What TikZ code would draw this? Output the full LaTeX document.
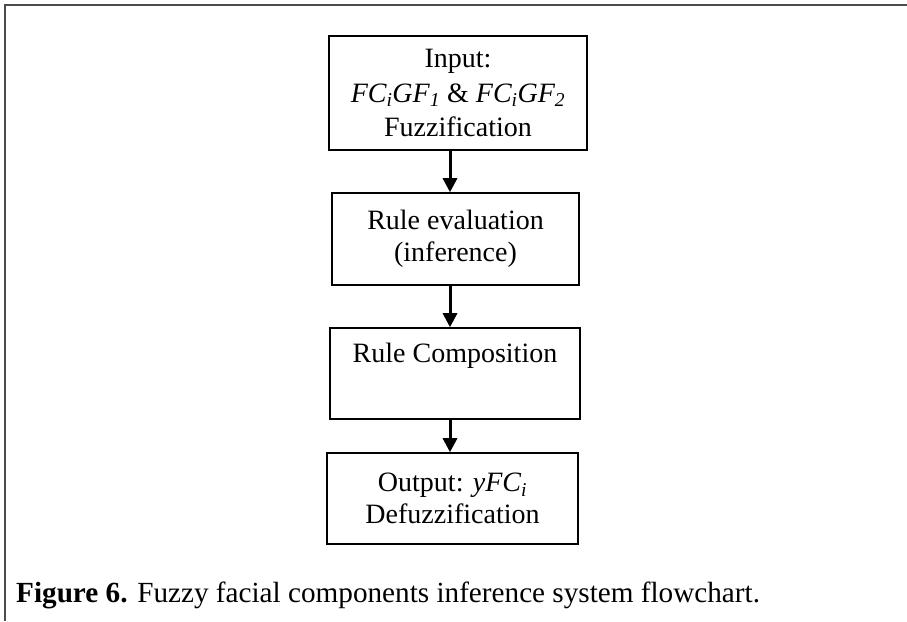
\documentclass[tikz,border=0pt]{standalone}
\usepackage{fontspec}
\setmainfont{Liberation Serif}
\usetikzlibrary{arrows.meta}
\begin{document}
\begin{tikzpicture}[x=1pt,y=1pt,
  box/.style={draw=black, line width=1.5pt, rectangle, align=center, inner sep=0pt,
    font=\fontsize{28}{32}\selectfont},
  arr/.style={line width=3pt, -{Triangle[width=14pt,length=14pt]}},
  frame/.style={draw=black!70, line width=2pt}]
\useasboundingbox (0,0) rectangle (907,621);
\draw[frame] (907,615.5) -- (4.5,615.5) -- (4.5,0);
\node[box, minimum width=258pt, minimum height=114pt, font=\fontsize{28}{34.5}\selectfont] (b1) at (458,528)
  {Input:\\ \textit{FC\textsubscript{i}GF\textsubscript{1}} \& \textit{FC\textsubscript{i}GF\textsubscript{2}}\\ Fuzzification};
\node[box, minimum width=247pt, minimum height=92pt] (b2) at (455.5,382)
  {Rule evaluation\\ (inference)};
\node[box, minimum width=250pt, minimum height=91pt] (b3) at (455,247.5)
  {Rule Composition\\ \strut};
\node[box, minimum width=251pt, minimum height=91pt] (b4) at (452.5,122.5)
  {Output: \textit{yFC\textsubscript{i}}\\ Defuzzification};
\coordinate (ax) at (450,0);
\draw[arr] (b1.south -| ax) -- (b2.north -| ax);
\draw[arr] (b2.south -| ax) -- (b3.north -| ax);
\draw[arr] (b3.south -| ax) -- (b4.north -| ax);
\node[anchor=base west, inner sep=0pt, font=\fontsize{29.2}{33}\selectfont] (cap) at (16,19)
  {\textbf{Figure 6.} Fuzzy facial components inference system flowchart.};
\end{tikzpicture}
\end{document}
